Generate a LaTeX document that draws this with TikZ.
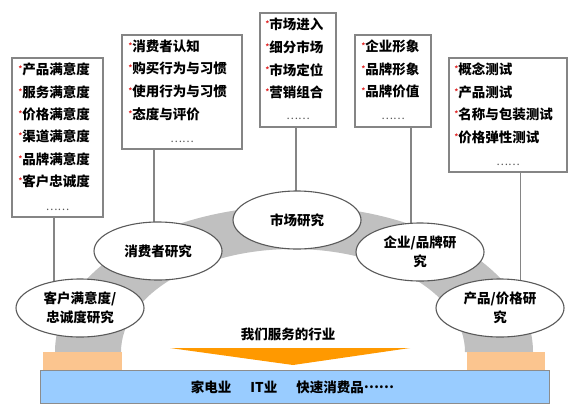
\documentclass[tikz,border=0pt]{standalone}
\usepackage{fontspec}
\newfontfamily\cjk{Noto Sans CJK SC}
\usetikzlibrary{shapes.geometric}
\pgfdeclarelayer{bg}
\pgfsetlayers{bg,main}
\definecolor{archgray}{HTML}{C0C0C0}
\definecolor{boxgray}{HTML}{858585}
\definecolor{ellgray}{HTML}{5A5A5A}
\definecolor{conngray}{HTML}{858585}
\definecolor{dotgray}{HTML}{555555}
\definecolor{peach}{HTML}{FBC58F}
\definecolor{barblue}{HTML}{99CCFF}
\definecolor{bargray}{HTML}{8C8C8C}
\definecolor{arroworange}{HTML}{FF9900}
\definecolor{bulred}{HTML}{E02020}
\newcommand\bul{\raisebox{3pt}{\textcolor{bulred}{\fontsize{7}{7}\selectfont *}}}
\begin{document}
\begin{tikzpicture}[x=1pt,y=-1pt,
  lbox/.style={draw=boxgray, line width=1.1pt, fill=white, inner sep=0pt, rectangle},
  item/.style={anchor=west, inner sep=0pt, font=\cjk\bfseries\fontsize{13.5}{16}\selectfont},
  dots/.style={inner sep=0pt, font=\cjk\fontsize{11}{12}\selectfont, text=dotgray},
  oval/.style={ellipse, draw=ellgray, line width=1.1pt, fill=white, minimum width=128pt, minimum height=58pt, inner sep=0pt, align=center, font=\cjk\bfseries\fontsize{13.5}{19}\selectfont},
  conn/.style={draw=conngray, line width=1.2pt},
  label/.style={inner sep=0pt, font=\cjk\bfseries\fontsize{13.5}{16}\selectfont}]

\useasboundingbox (0,0) rectangle (580,418);

% list boxes
\node[lbox, minimum width=91pt, minimum height=159pt] (b1) at (57.5,137.5) {};
\node[lbox, minimum width=120pt, minimum height=114pt] (b2) at (182,92) {};
\node[lbox, minimum width=76pt, minimum height=114pt] (b3) at (298,70) {};
\node[lbox, minimum width=76pt, minimum height=92pt] (b4) at (393,81) {};
\node[lbox, minimum width=118pt, minimum height=114pt] (b5) at (508,115) {};

\foreach \t [count=\i] in {产品满意度,服务满意度,价格满意度,渠道满意度,品牌满意度,客户忠诚度}
  \node[item] (b1-\i) at ([shift={(7,{12+22.4*(\i-1)})}]b1.north west) {\bul\t};
\foreach \t [count=\i] in {消费者认知,购买行为与习惯,使用行为与习惯,态度与评价}
  \node[item] (b2-\i) at ([shift={(7,{11.5+22.8*(\i-1)})}]b2.north west) {\bul\t};
\foreach \t [count=\i] in {市场进入,细分市场,市场定位,营销组合}
  \node[item] (b3-\i) at ([shift={(6,{12+22.7*(\i-1)})}]b3.north west) {\bul\t};
\foreach \t [count=\i] in {企业形象,品牌形象,品牌价值}
  \node[item] (b4-\i) at ([shift={(7,{12+22.7*(\i-1)})}]b4.north west) {\bul\t};
\foreach \t [count=\i] in {概念测试,产品测试,名称与包装测试,价格弹性测试}
  \node[item] (b5-\i) at ([shift={(6,{12+22.5*(\i-1)})}]b5.north west) {\bul\t};

\node[dots] (b1-d) at ([yshift=8pt]b1.south) {……};
\node[dots] (b2-d) at ([yshift=8pt]b2.south) {……};
\node[dots] (b3-d) at ([yshift=9pt]b3.south) {……};
\node[dots] (b4-d) at ([yshift=9pt]b4.south) {……};
\node[dots] (b5-d) at ([yshift=8pt]b5.south) {……};

% ellipses
\node[oval] (e1) at (80,308) {客户满意度/\\忠诚度研究};
\node[oval] (e2) at (158,251) {消费者研究};
\node[oval] (e3) at (297,220) {市场研究};
\node[oval] (e4) at (420,252) {企业/品牌研\\究};
\node[oval] (e5) at (500,308) {产品/价格研\\究};

% background: white page, arch and connectors
\begin{pgfonlayer}{bg}
  \fill[white] (0,0) rectangle (580,418);
  \fill[archgray] (55,352) arc[start angle=180,end angle=360,x radius=239,y radius=146]
    -- (465,352) arc[start angle=0,end angle=-180,x radius=172,y radius=103] -- cycle;
  \draw[conn] ([xshift=-3.5pt]b1.south) -- ([xshift=-3.5pt]b1.south |- e1.center);
  \draw[conn] ([xshift=-28pt]b2.south) -- ([xshift=-28pt]b2.south |- e2.center);
  \draw[conn] ([xshift=-2pt]b3.south) -- ([xshift=-2pt]b3.south |- e3.center);
  \draw[conn] ([xshift=18pt]b4.south) -- ([xshift=18pt]b4.south |- e4.center);
  \draw[conn] ([xshift=12.5pt]b5.south) -- ([xshift=12.5pt]b5.south |- e5.center);
\end{pgfonlayer}

% bases
\fill[peach] (43,352) rectangle (122,370);
\fill[peach] (467,352) rectangle (545,370);
\node[draw=bargray, line width=0.8pt, fill=barblue, minimum width=509pt, minimum height=33pt, inner sep=0pt] (bar) at (294.5,386.5) {};
\node[label] (bartext) at (292.5,387.5) {家电业\hspace{19pt}IT业\hspace{19pt}快速消费品\raisebox{4pt}{……}};

% industry arrow
\fill[arroworange] (170,348) -- (410,348) -- (293,365) -- cycle;
\node[label] (industry) at (288,334) {我们服务的行业};
\end{tikzpicture}
\end{document}
